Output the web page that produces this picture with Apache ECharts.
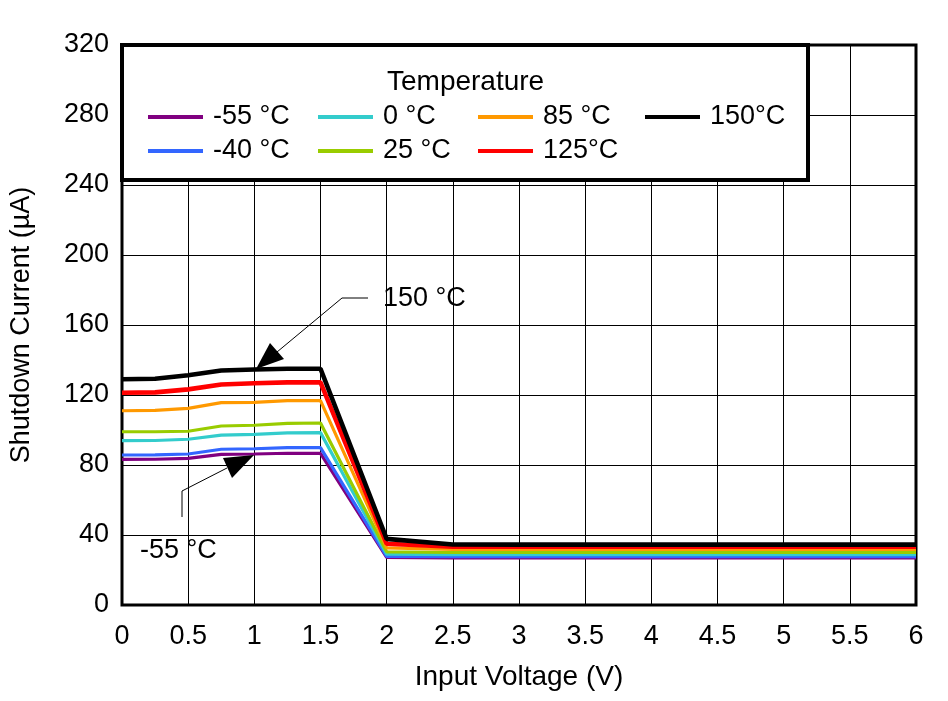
<!DOCTYPE html>
<html>
<head>
<meta charset="utf-8">
<script src="https://cdn.jsdelivr.net/npm/echarts@6/dist/echarts.min.js"></script>
<style>html,body{margin:0;padding:0;background:#fff}#c{width:948px;height:701px}</style>
</head>
<body>
<div id="c"></div>
<script>
const FONT = 'Liberation Sans, Arial, sans-serif';
const xValues = [0, 0.25, 0.5, 0.75, 1, 1.25, 1.5, 2, 2.5, 3, 3.5, 4, 4.5, 5, 5.5, 6];
const seriesNames = ['-55 °C', '-40 °C', '0 °C', '25 °C', '85 °C', '125°C', '150°C'];
const seriesColors = ['#800080', '#3366ff', '#33cccc', '#99cc00', '#ff9900', '#ff0000', '#000000'];
const seriesWidths = [3.2, 3.2, 3.2, 3.2, 3.2, 4.6, 4.6];
const tm55 = [83.2, 83.3, 83.8, 86.1, 86.3, 86.7, 86.7, 27.2, 26.9, 26.9, 26.9, 26.9, 26.9, 26.9, 26.9, 26.9];
const tm40 = [85.7, 85.8, 86.3, 89.0, 89.3, 89.9, 89.9, 27.8, 27.6, 27.6, 27.6, 27.6, 27.6, 27.6, 27.6, 27.6];
const t0   = [93.9, 94.0, 94.7, 97.1, 97.5, 98.4, 98.5, 29.0, 28.8, 28.8, 28.8, 28.8, 28.8, 28.8, 28.8, 28.8];
const t25  = [99.0, 99.0, 99.3, 102.3, 102.7, 103.8, 104.0, 30.4, 30.0, 30.0, 30.0, 30.0, 30.0, 30.0, 30.0, 30.0];
const t85  = [111.0, 111.2, 112.4, 115.6, 115.8, 116.8, 116.8, 32.6, 31.8, 31.8, 31.8, 31.8, 31.8, 31.8, 31.8, 31.8];
const t125 = [121.3, 121.5, 123.2, 126.0, 126.7, 127.2, 127.2, 35.0, 33.3, 33.3, 33.3, 33.3, 33.3, 33.3, 33.3, 33.3];
const t150 = [129.0, 129.3, 131.3, 134.0, 134.6, 135.0, 135.0, 37.8, 34.6, 34.5, 34.5, 34.5, 34.5, 34.5, 34.5, 34.5];
const allValues = [tm55, tm40, t0, t25, t85, t125, t150];
const legendColumns = [['-55 °C', '-40 °C'], ['0 °C', '25 °C'], ['85 °C', '125°C'], ['150°C']];
const legendLefts = [143, 313, 473, 640];

const chart = echarts.init(document.getElementById('c'), null, {renderer: 'canvas'});

const series = seriesNames.map((n, i) => ({
  name: n, type: 'line', showSymbol: false, symbol: 'none',
  data: xValues.map((x, j) => [x, allValues[i][j]]),
  lineStyle: {color: seriesColors[i], width: seriesWidths[i]},
  itemStyle: {color: seriesColors[i]},
  z: 3 + i, animation: false
}));

const legends = legendColumns.map((col, k) => ({
  orient: 'vertical', left: legendLefts[k], top: 97, itemGap: 4,
  itemWidth: 55, itemHeight: 4, icon: 'rect', z: 10,
  data: col.map(n => ({name: n, itemStyle: {color: seriesColors[seriesNames.indexOf(n)]}})),
  selectedMode: false,
  textStyle: {fontFamily: FONT, fontSize: 27, color: '#000', lineHeight: 30, padding: [0, 0, 0, 5]}
}));

chart.setOption({
  animation: false,
  backgroundColor: '#fff',
  title: {text: 'Temperature', left: 382, top: 63, z: 10,
    textStyle: {fontFamily: FONT, fontSize: 28, fontWeight: 'normal', color: '#000'}},
  legend: legends,
  grid: {left: 122, right: 32, top: 45, bottom: 96, show: true, borderColor: '#000', borderWidth: 3, backgroundColor: 'transparent'},
  xAxis: {
    type: 'value', min: 0, max: 6, interval: 0.5,
    name: 'Input Voltage (V)', nameLocation: 'middle', nameGap: 58,
    nameTextStyle: {fontFamily: FONT, fontSize: 28, color: '#000'},
    axisLine: {show: false}, axisTick: {show: false},
    axisLabel: {fontFamily: FONT, fontSize: 27, color: '#000', margin: 18},
    splitLine: {show: true, lineStyle: {color: '#000', width: 1}}
  },
  yAxis: {
    type: 'value', min: 0, max: 320, interval: 40,
    name: 'Shutdown Current (µA)', nameLocation: 'middle', nameGap: 87,
    nameTextStyle: {fontFamily: FONT, fontSize: 27, color: '#000'},
    axisLine: {show: false}, axisTick: {show: false},
    axisLabel: {fontFamily: FONT, fontSize: 27, color: '#000', margin: 13},
    splitLine: {show: true, lineStyle: {color: '#000', width: 1}}
  },
  series: series
});

// legend box and annotations
chart.setOption({
  graphic: [
    {type: 'rect', z: 8, shape: {x: 122, y: 45, width: 686, height: 135},
     style: {fill: '#fff', stroke: '#000', lineWidth: 4}},
    {type: 'polyline', z: 20, shape: {points: [[368, 298], [342, 298], [277, 352]]},
     style: {stroke: '#000', lineWidth: 1, fill: null}},
    {type: 'polygon', z: 20, shape: {points: [[270, 343], [284, 359], [256, 369]]},
     style: {fill: '#000'}},
    {type: 'text', z: 20, x: 383, y: 299,
     style: {text: '150 °C', fontFamily: FONT, fontSize: 27, fill: '#000', verticalAlign: 'middle'}},
    {type: 'polyline', z: 20, shape: {points: [[182, 517], [182, 491], [227, 468]]},
     style: {stroke: '#000', lineWidth: 1, fill: null}},
    {type: 'polygon', z: 20, shape: {points: [[223, 458], [254, 455], [232, 478]]},
     style: {fill: '#000'}},
    {type: 'text', z: 20, x: 140, y: 551,
     style: {text: '-55 °C', fontFamily: FONT, fontSize: 27, fill: '#000', verticalAlign: 'middle'}}
  ]
});
</script>
</body>
</html>
